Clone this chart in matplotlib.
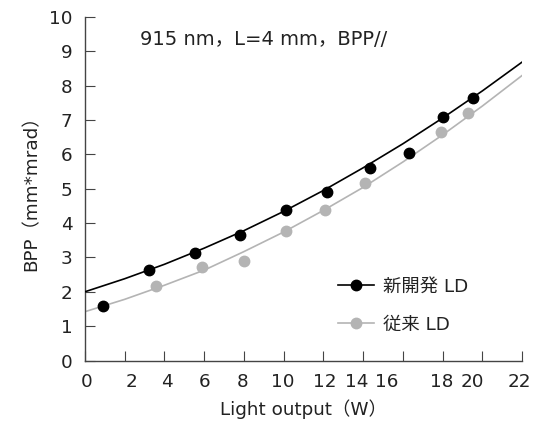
import numpy as np
import matplotlib.pyplot as plt
from matplotlib.lines import Line2D

plt.rcParams['font.family'] = ['DejaVu Sans', 'Noto Sans CJK JP']

# measured points
new_x = [0.89, 3.23, 5.52, 7.78, 10.13, 12.17, 14.32, 16.29, 18.03, 19.50]
new_y = [1.59, 2.63, 3.14, 3.65, 4.38, 4.91, 5.61, 6.05, 7.10, 7.63]
old_x = [3.57, 5.91, 7.99, 10.13, 12.10, 14.10, 17.93, 19.25]
old_y = [2.17, 2.71, 2.91, 3.78, 4.38, 5.16, 6.64, 7.20]

# trend lines
trend_x = [0, 2, 4, 6, 8, 10, 12, 14, 16, 18, 20, 22]
new_trend = [2.00, 2.38, 2.80, 3.27, 3.78, 4.34, 4.95, 5.61, 6.31, 7.06, 7.85, 8.69]
old_trend = [1.42, 1.78, 2.19, 2.63, 3.17, 3.74, 4.37, 5.04, 5.78, 6.57, 7.41, 8.30]

xticks = list(range(0, 23, 2))
xtick_labels = [str(v) for v in xticks]
# label positions are shifted in the original drawing
xlabel_pos = [0.1, 2.36, 4.12, 6.03, 7.94, 9.94, 12.05, 13.66, 15.17, 17.93, 19.49, 21.85]
yticks = list(range(0, 11))

black = '#000000'
gray = '#b4b4b4'
txt = '#222222'
axis_col = '#444444'
fs = 13.2

fig = plt.figure(figsize=(5.44, 4.21), dpi=100)
ax = fig.add_axes([0.156, 0.1437, 0.804, 0.816])

ax.plot(trend_x, old_trend, color=gray, lw=1.2, zorder=2)
ax.plot(trend_x, new_trend, color=black, lw=1.2, zorder=3)
ax.plot(old_x, old_y, 'o', color=gray, ms=7.5, zorder=4)
ax.plot(new_x, new_y, 'o', color=black, ms=7.5, zorder=5)

ax.set_xlim(0, 22)
ax.set_ylim(0, 10)
for s in ['top', 'right']:
    ax.spines[s].set_visible(False)
for s in ['left', 'bottom']:
    ax.spines[s].set_color(axis_col)
    ax.spines[s].set_linewidth(1.0)

ax.set_xticks(xticks)
ax.set_xticklabels([])
ax.set_xticks(xlabel_pos, xtick_labels, minor=True)
ax.tick_params(axis='x', which='major', direction='in', length=7, color=axis_col)
ax.tick_params(axis='x', which='minor', length=0, pad=9, labelsize=fs, labelcolor=txt)
ax.set_yticks(yticks)
ax.tick_params(axis='y', direction='in', length=7, color=axis_col, pad=9,
               labelsize=fs, labelcolor=txt)

ax.set_xlabel('Light output（W）', fontsize=fs, color=txt, labelpad=6)
ax.set_ylabel('BPP（mm*mrad）', fontsize=fs, color=txt, labelpad=6)

ax.text(2.76, 9.33, '915 nm，L=4 mm，BPP//', fontsize=14, color=txt,
        ha='left', va='center')

handles = [
    Line2D([], [], color=black, marker='o', ms=7.5, lw=1.2),
    Line2D([], [], color=gray, marker='o', ms=7.5, lw=1.2),
]
ax.legend(handles, ['新開発 LD', '従来 LD'], loc='upper left',
          bbox_to_anchor=(0.578, 0.242), frameon=False, fontsize=fs,
          handlelength=2.0, handletextpad=0.45, labelspacing=1.1,
          borderpad=0, borderaxespad=0, labelcolor=txt)

fig.savefig('out.png', dpi=100)
